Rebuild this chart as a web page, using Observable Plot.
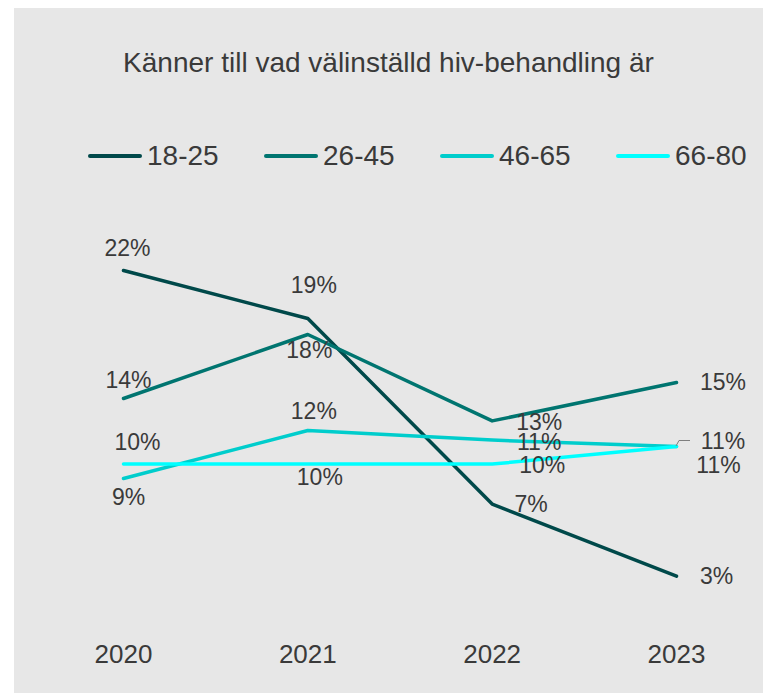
<!DOCTYPE html>
<html>
<head>
<meta charset="utf-8">
<script src="https://cdn.jsdelivr.net/npm/d3@7"></script>
<script src="https://cdn.jsdelivr.net/npm/@observablehq/plot@0.6"></script>
<style>
  html, body { margin: 0; padding: 0; background: #ffffff; }
  #panel { position: absolute; left: 14px; top: 8px; width: 749px; height: 685px; background: #e7e7e7;
           font-family: "Liberation Sans", Arial, sans-serif; color: #3a3a3a; overflow: hidden; }
  #title { position: absolute; left: 0; width: 749px; top: 41px; text-align: center; font-size: 28px; line-height: 28px; white-space: nowrap; }
  .leg { position: absolute; top: 128px; height: 40px; display: flex; align-items: center; font-size: 28px; line-height: 28px; white-space: nowrap; }
  .leg .sw { width: 54px; height: 4px; border-radius: 2px; margin-right: 5px; }
  #plot { position: absolute; left: 0; top: 182px; }
</style>
</head>
<body>
<div id="panel">
  <div id="title"></div>
  <div id="legend"></div>
  <div id="plot"></div>
</div>
<script>
const titleText = "Känner till vad välinställd hiv-behandling är";
const years = [2020, 2021, 2022, 2023];
const series = ["18-25", "26-45", "46-65", "66-80"];
const v1825 = [22, 19, 7.4, 2.9];
const v2645 = [14, 18, 12.6, 15];
const v4665 = [9, 12, 11.4, 11];
const v6680 = [9.9, 9.9, 9.9, 11];
const colors = ["#00494a", "#007570", "#00cdcc", "#00ffff"];

// label placement (pixel offsets from each point) — layout only
const labelOffsets = {
  "18-25": [[4, -22], [6, -33], [39, 1], [40, 1]],
  "26-45": [[5, -18], [1.5, 16.5], [47, 1.5], [46.5, 0]],
  "46-65": [[5, 19.5], [6, -19], [47, 2.5], [46.5, -4.5]],
  "66-80": [[14, -21.5], [12, 14], [50, 2], [42, 19.5]]
};

const valuesBySeries = {"18-25": v1825, "26-45": v2645, "46-65": v4665, "66-80": v6680};
const rows = [];
series.forEach(s => years.forEach((yr, i) => rows.push({year: yr, group: s, value: valuesBySeries[s][i], idx: i})));

document.getElementById("title").textContent = titleText;
const legend = document.getElementById("legend");
series.forEach((s, i) => {
  const item = document.createElement("div");
  item.className = "leg";
  item.style.left = (74 + i * 176) + "px";
  const sw = document.createElement("div");
  sw.className = "sw";
  sw.style.background = colors[i];
  const tx = document.createElement("span");
  tx.textContent = s;
  item.appendChild(sw); item.appendChild(tx);
  legend.appendChild(item);
});

const labelMarks = rows.map(r => {
  const [dx, dy] = labelOffsets[r.group][r.idx];
  return Plot.text([r], {x: "year", y: "value", text: d => Math.round(d.value) + "%",
    dx, dy, fontSize: 23, fill: "#3a3a3a", textAnchor: "middle", lineAnchor: "middle"});
});

// leader line for the 46-65 label in 2023
const leader = (index, scales) => {
  const px = scales.x(years[3]), py = scales.y(v4665[3]);
  const p = document.createElementNS("http://www.w3.org/2000/svg", "path");
  p.setAttribute("d", `M${px},${py}L${px + 3},${py - 5.5}L${px + 14},${py - 5.5}`);
  p.setAttribute("fill", "none");
  p.setAttribute("stroke", "#7f7f7f");
  p.setAttribute("stroke-width", "1");
  return p;
};

const chart = Plot.plot({
  width: 749,
  height: 503,
  marginLeft: 109,
  marginRight: 87,
  marginTop: 32,
  marginBottom: 71,
  x: {type: "linear", domain: [2020, 2023], label: null},
  y: {domain: [0, 25], axis: null, label: null},
  color: {domain: series, range: colors},
  style: {background: "transparent", fontFamily: "'Liberation Sans', Arial, sans-serif", fontSize: "23px", color: "#3a3a3a", overflow: "visible"},
  marks: [
    Plot.axisX({ticks: years, tickFormat: d => String(d), tickSize: 0, tickPadding: 22, fontSize: 26, label: null}),
    Plot.line(rows, {x: "year", y: "value", z: "group", stroke: "group", strokeWidth: 3.5, strokeLinejoin: "round", strokeLinecap: "round"}),
    leader,
    ...labelMarks
  ]
});
document.getElementById("plot").appendChild(chart);
</script>
</body>
</html>
